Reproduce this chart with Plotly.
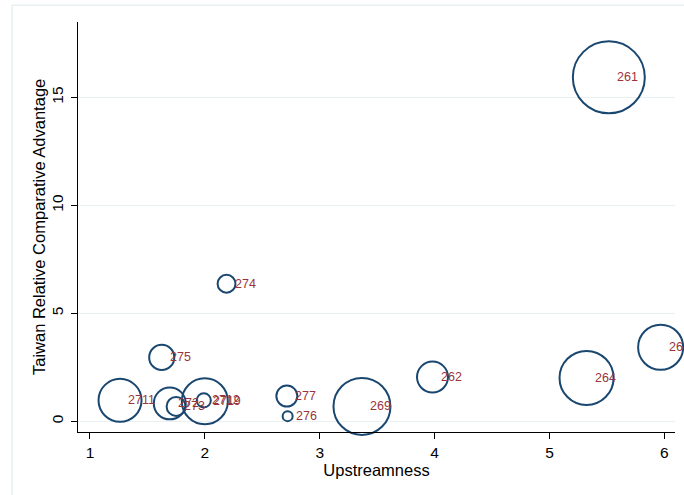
import plotly.graph_objects as go

# Data
codes = ["261", "263", "264", "262", "269", "277", "276", "274", "275",
         "2711", "272", "273", "2719", "2712"]
upstreamness = [5.517, 5.968, 5.323, 3.982, 3.368, 2.714, 2.721, 2.189, 1.625,
                1.262, 1.695, 1.750, 2.000, 1.991]
rca = [15.93, 3.43, 2.01, 2.05, 0.69, 1.17, 0.24, 6.37, 2.96,
       0.97, 0.83, 0.69, 0.93, 0.97]
weight = [51.8, 20.3, 29.2, 9.6, 32.5, 4.4, 1.0, 3.2, 6.3,
          18.5, 10.2, 3.6, 21.2, 2.0]

x_ticks = [1, 2, 3, 4, 5, 6]
y_ticks = [0, 5, 10, 15]
x_title = "Upstreamness"
y_title = "Taiwan Relative Comparative Advantage"

FONT = "Arial, 'Liberation Sans', sans-serif"
NAVY = "#1a476f"
CRAN = "#9a3439"

fig = go.Figure()
fig.add_trace(go.Scatter(
    x=upstreamness, y=rca, mode="markers",
    marker=dict(size=weight, sizemode="area", sizeref=0.02, sizemin=1, opacity=1,
                color="rgba(0,0,0,0)", line=dict(color=NAVY, width=2)),
    cliponaxis=False, showlegend=False, hoverinfo="skip",
))

for c, xv, yv in zip(codes, upstreamness, rca):
    fig.add_annotation(x=xv, y=yv, xref="x", yref="y", text=c, showarrow=False,
                       xanchor="left", yanchor="middle", xshift=6,
                       font=dict(family=FONT, size=12.5, color=CRAN))

# y-axis title
fig.add_annotation(x=-0.0653, y=0.5, xref="paper", yref="paper", text=y_title,
                   showarrow=False, textangle=-90, xanchor="center", yanchor="middle",
                   font=dict(family=FONT, size=16.5, color="black"))

# outer graph-region border (left/top visible)
fig.add_shape(type="rect", xref="paper", yref="paper",
              x0=-0.1106, x1=1.3, y0=-0.3, y1=1.041,
              line=dict(color="#dde8eb", width=1), fillcolor="rgba(0,0,0,0)", layer="below")

fig.update_layout(
    width=684, height=495,
    margin=dict(l=78, r=9, t=22, b=63, autoexpand=False),
    paper_bgcolor="white", plot_bgcolor="white",
    font=dict(family=FONT, size=15.5, color="black"),
    xaxis=dict(range=[0.896, 6.093], tickvals=x_ticks, ticks="outside", ticklen=6,
               tickcolor="black", showline=True, linecolor="black", linewidth=1,
               showgrid=False, zeroline=False, automargin=False,
               tickfont=dict(size=15.5),
               title=dict(text=x_title, font=dict(size=16.5), standoff=2)),
    yaxis=dict(range=[-0.495, 18.49], tickvals=y_ticks, ticks="outside", ticklen=6,
               tickcolor="black", showline=True, linecolor="black", linewidth=1,
               showgrid=True, gridcolor="#e8f0f2", gridwidth=1, zeroline=False,
               tickangle=-90, tickfont=dict(size=15.5), automargin=False,
               ticklabelstandoff=2),
)

fig.write_html("out.html", config={"displayModeBar": False},
               post_script="document.body.style.margin='0px';")
